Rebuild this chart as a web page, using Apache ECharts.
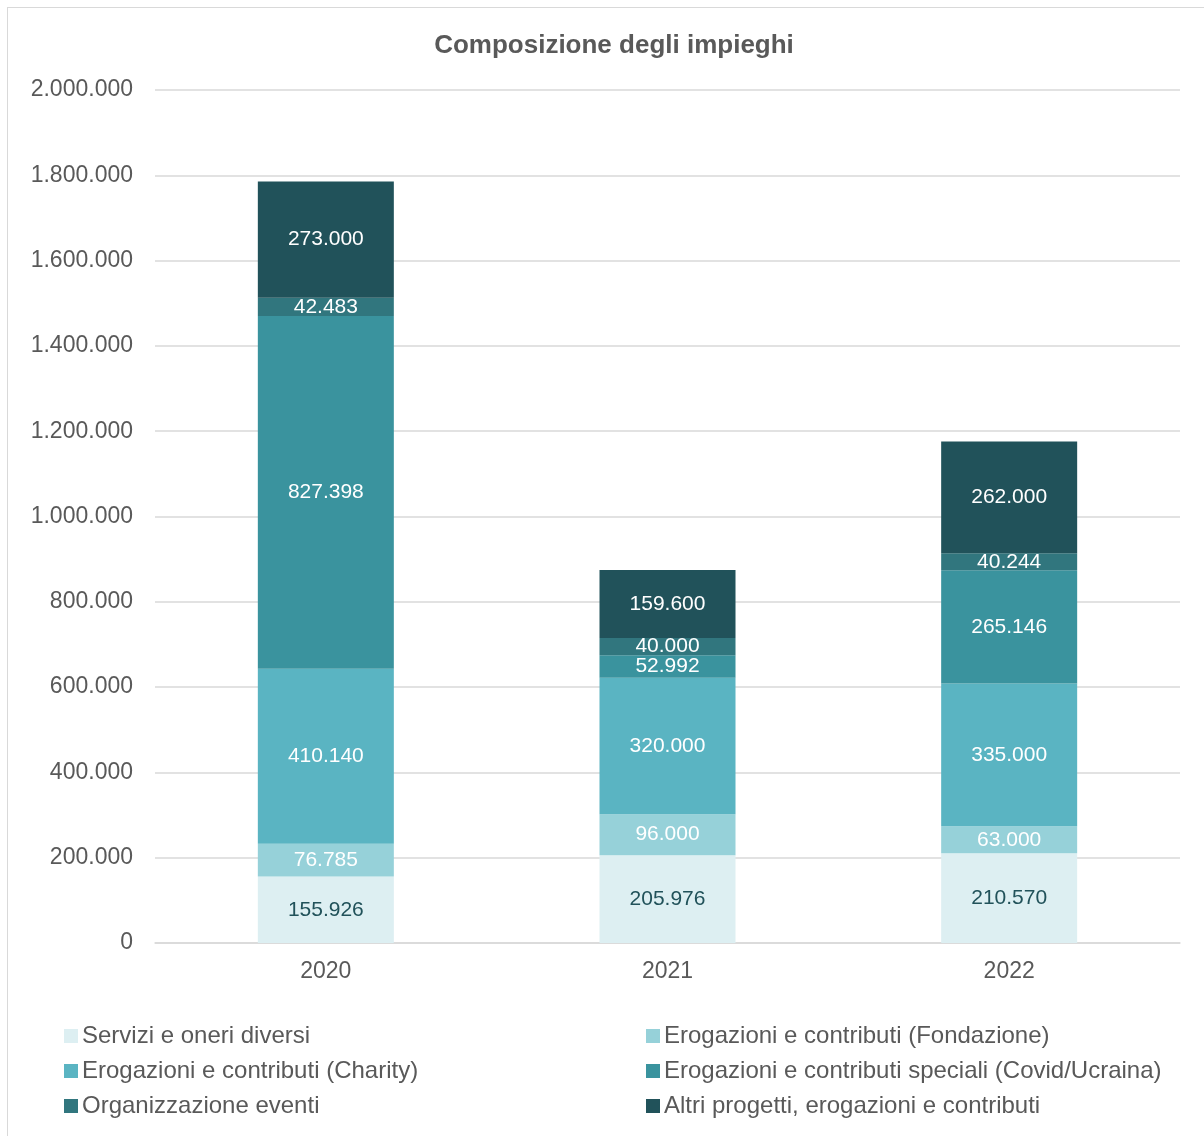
<!DOCTYPE html>
<html>
<head>
<meta charset="utf-8">
<script src="https://cdn.jsdelivr.net/npm/echarts@6/dist/echarts.min.js"></script>
<style>
  html, body { margin: 0; padding: 0; background: #fff; }
  #frame { position: absolute; left: 7px; top: 7px; width: 1200px; height: 1130px; border: 1px solid #d9d9d9; box-sizing: border-box; }
  #chart { position: absolute; left: 0; top: 0; width: 1204px; height: 1136px; }
</style>
</head>
<body>
<div id="frame"></div>
<div id="chart"></div>
<script>
const years = ['2020', '2021', '2022']
const seriesNames = [
  'Servizi e oneri diversi',
  'Erogazioni e contributi (Fondazione)',
  'Erogazioni e contributi (Charity)',
  'Erogazioni e contributi speciali (Covid/Ucraina)',
  'Organizzazione eventi',
  'Altri progetti, erogazioni e contributi'
]
const servizi = [155926, 205976, 210570]
const fondazione = [76785, 96000, 63000]
const charity = [410140, 320000, 335000]
const speciali = [827398, 52992, 265146]
const eventi = [42483, 40000, 40244]
const altri = [273000, 159600, 262000]
const colors = ['#ddeff2', '#96d1d9', '#5ab4c2', '#3a939e', '#31767e', '#21525a']

function fmt(v) {
  return String(Math.round(v)).replace(/\B(?=(\d{3})+(?!\d))/g, '.')
}

const values = [servizi, fondazione, charity, speciali, eventi, altri]
const chart = echarts.init(document.getElementById('chart'))

const series = values.map((data, i) => ({
  name: seriesNames[i],
  type: 'bar',
  stack: 'total',
  barWidth: 136,
  data: data,
  itemStyle: { color: colors[i] },
  label: {
    show: true,
    position: 'inside',
    fontFamily: 'Liberation Sans',
    fontSize: 21,
    color: i === 0 ? '#21525a' : '#ffffff',
    formatter: p => fmt(p.value)
  }
}))

const legendText = { fontFamily: 'Liberation Sans', fontSize: 24, color: '#595959', padding: [0, 0, 0, -1] }

const legendBase = {
  orient: 'vertical',
  top: 1019,
  itemWidth: 14,
  itemHeight: 14,
  itemGap: 11,
  icon: 'rect',
  textStyle: legendText,
  selectedMode: false
}

chart.setOption({
  animation: false,
  title: {
    text: 'Composizione degli impieghi',
    left: 609,
    textAlign: 'center',
    top: 28,
    textStyle: { fontFamily: 'Liberation Sans', fontSize: 26, fontWeight: 'bold', color: '#595959' }
  },
  legend: [
    Object.assign({ data: [seriesNames[0], seriesNames[2], seriesNames[4]], left: 59 }, legendBase),
    Object.assign({ data: [seriesNames[1], seriesNames[3], seriesNames[5]], left: 641 }, legendBase)
  ],
  grid: { left: 155, right: 24, top: 90, bottom: 193 },
  xAxis: {
    type: 'category',
    data: years,
    axisLine: { lineStyle: { color: '#d9d9d9', width: 1.5 } },
    axisTick: { show: false },
    axisLabel: { fontFamily: 'Liberation Sans', fontSize: 23, color: '#595959', margin: 17 }
  },
  yAxis: {
    type: 'value',
    min: 0,
    max: 2000000,
    interval: 200000,
    axisLine: { show: false },
    axisTick: { show: false },
    splitLine: { lineStyle: { color: '#d9d9d9', width: 1.5 } },
    axisLabel: {
      fontFamily: 'Liberation Sans',
      fontSize: 23,
      color: '#595959',
      margin: 22,
      formatter: v => fmt(v)
    }
  },
  series: series
})
</script>
</body>
</html>
